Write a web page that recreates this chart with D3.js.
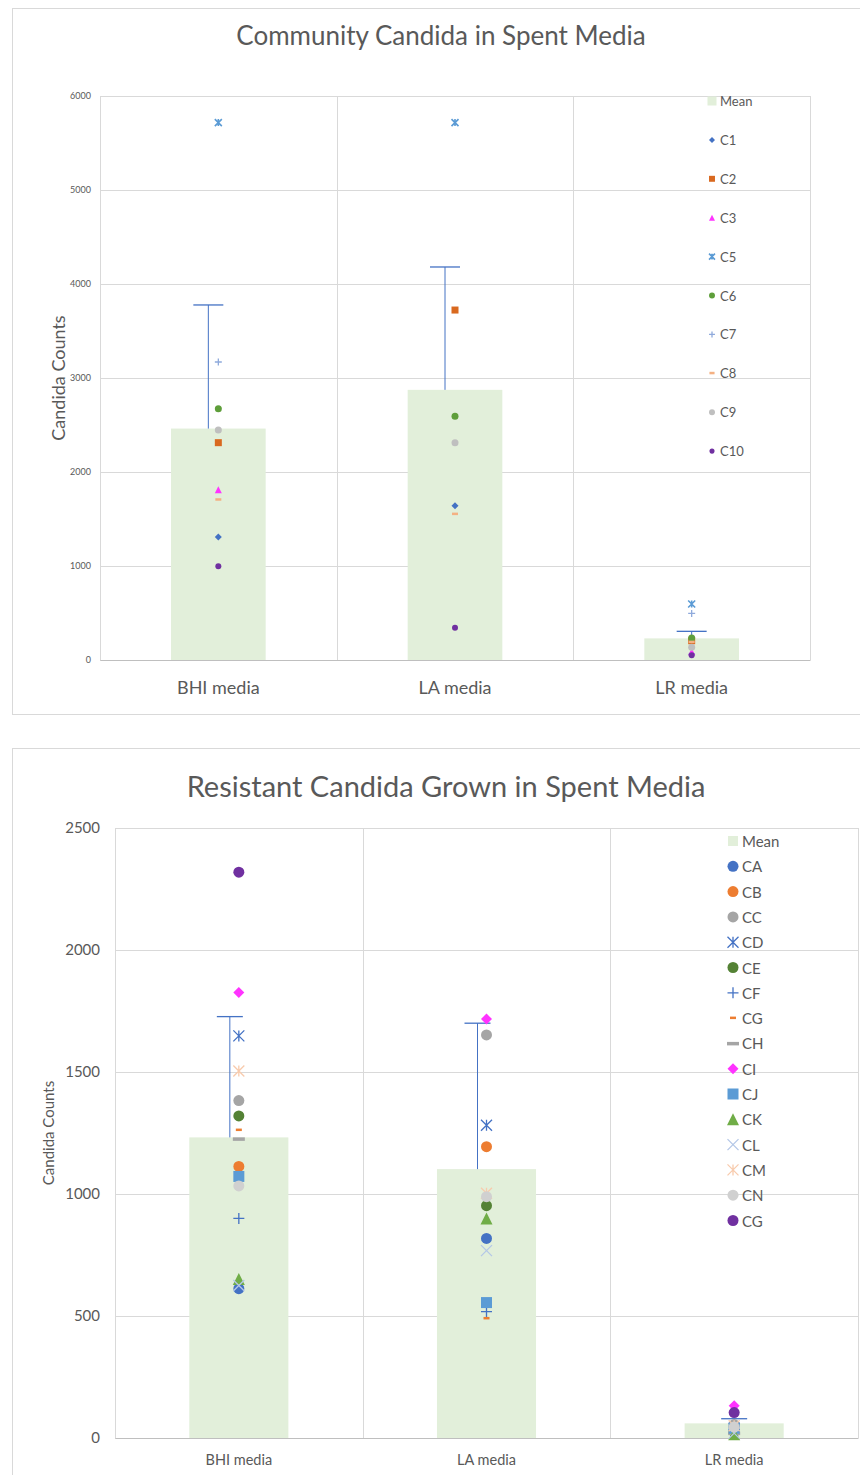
<!DOCTYPE html>
<html>
<head>
<meta charset="utf-8">
<script src="https://cdn.jsdelivr.net/npm/d3@7"></script>
<style>
  body { margin: 0; background: #fff; }
  text { font-family: Lato, "Open Sans", sans-serif; fill: #595959; }
</style>
</head>
<body>
<div id="chart"></div>
<script>
// ---- data: chart 1 (Community Candida) ----
var categories = ["BHI media", "LA media", "LR media"];

var topNames = ["C1", "C2", "C3", "C5", "C6", "C7", "C8", "C9", "C10"];
var topMean = [2462, 2874, 230];
var topErr = [1315, 1307, 75];
var topTicks = [0, 1000, 2000, 3000, 4000, 5000, 6000];
var c1 = [1308, 1642, 60];
var c2 = [2312, 3723, 205];
var c3 = [1812, null, 89];
var c5 = [5717, 5717, 596];
var c6 = [2673, 2592, 234];
var c7 = [3170, null, 496];
var c8 = [1705, 1552, 190];
var c9 = [2447, 2312, 135];
var c10 = [997, 342, 50];

// ---- data: chart 2 (Resistant Candida) ----
var botNames = ["CA", "CB", "CC", "CD", "CE", "CF", "CG", "CH", "CI", "CJ", "CK", "CL", "CM", "CN", "CG"];
var botMean = [1232, 1102, 60];
var botErr = [495, 598, 19];
var botTicks = [0, 500, 1000, 1500, 2000, 2500];
var ca = [612, 818, 30];
var cb = [1113, 1194, 45];
var cc = [1383, 1652, 55];
var cd = [1648, 1282, 40];
var ce = [1320, 952, 25];
var cf = [900, 518, 35];
var cg = [1262, 490, 30];
var ch = [1226, null, 20];
var ci = [1826, 1717, 132];
var cj = [1072, 555, 40];
var ck = [652, 900, 15];
var cl = [625, 768, 20];
var cm = [1504, 1003, 50];
var cn = [1033, 989, 45];
var cg2 = [2319, null, 104];

var topValues = [c1, c2, c3, c5, c6, c7, c8, c9, c10];
var botValues = [ca, cb, cc, cd, ce, cf, cg, ch, ci, cj, ck, cl, cm, cn, cg2];

// marker styles (shape, colour, size)
var topStyles = [
  { shape: "diamond", color: "#4472C4", size: 7 },
  { shape: "square", color: "#D9691F", size: 7 },
  { shape: "triangle", color: "#FF33FF", size: 7 },
  { shape: "star", color: "#5B9BD5", size: 7 },
  { shape: "circle", color: "#5E9E3A", size: 7 },
  { shape: "plus", color: "#8FAADC", size: 7 },
  { shape: "dash", color: "#F4B183", size: 6 },
  { shape: "circle", color: "#BFBFBF", size: 7 },
  { shape: "circle", color: "#7030A0", size: 6 }
];
var botStyles = [
  { shape: "circle", color: "#4472C4", size: 11 },
  { shape: "circle", color: "#ED7D31", size: 11 },
  { shape: "circle", color: "#A5A5A5", size: 11 },
  { shape: "star", color: "#4472C4", size: 11 },
  { shape: "circle", color: "#548235", size: 11 },
  { shape: "plus", color: "#4472C4", size: 11 },
  { shape: "dash", color: "#ED7D31", size: 6 },
  { shape: "longdash", color: "#A5A5A5", size: 12 },
  { shape: "diamond", color: "#FF33FF", size: 11 },
  { shape: "square", color: "#5B9BD5", size: 11 },
  { shape: "triangle", color: "#70AD47", size: 12 },
  { shape: "x", color: "#B4C7E7", size: 11 },
  { shape: "star", color: "#F8CBAD", size: 11 },
  { shape: "circle", color: "#D0D0D0", size: 11 },
  { shape: "circle", color: "#7030A0", size: 11 }
];

var svg = d3.select("#chart").append("svg")
  .attr("width", 860)
  .attr("height", 1475);

function drawMarker(g, st, x, y) {
  var s = st.size, h = s / 2;
  if (st.shape == "circle") {
    g.append("circle").attr("cx", x).attr("cy", y).attr("r", h).attr("fill", st.color);
  } else if (st.shape == "square") {
    g.append("rect").attr("x", x - h).attr("y", y - h).attr("width", s).attr("height", s).attr("fill", st.color);
  } else if (st.shape == "diamond") {
    g.append("path").attr("d", "M" + x + "," + (y - h) + "L" + (x + h) + "," + y + "L" + x + "," + (y + h) + "L" + (x - h) + "," + y + "Z")
      .attr("fill", st.color);
  } else if (st.shape == "triangle") {
    g.append("path").attr("d", "M" + x + "," + (y - h) + "L" + (x + h) + "," + (y + h) + "L" + (x - h) + "," + (y + h) + "Z")
      .attr("fill", st.color);
  } else if (st.shape == "x" || st.shape == "star") {
    var d = "M" + (x - h) + "," + (y - h) + "L" + (x + h) + "," + (y + h) + "M" + (x + h) + "," + (y - h) + "L" + (x - h) + "," + (y + h);
    if (st.shape == "star") d += "M" + x + "," + (y - h) + "L" + x + "," + (y + h);
    g.append("path").attr("d", d).attr("stroke", st.color).attr("stroke-width", s > 8 ? 1.3 : 1.6).attr("fill", "none");
  } else if (st.shape == "plus") {
    g.append("path").attr("d", "M" + (x - h) + "," + y + "L" + (x + h) + "," + y + "M" + x + "," + (y - h) + "L" + x + "," + (y + h))
      .attr("stroke", st.color).attr("stroke-width", 1.3).attr("fill", "none");
  } else {
    // dash / longdash
    g.append("rect").attr("x", x - h).attr("y", y - 1.5).attr("width", s).attr("height", st.size > 8 ? 3.5 : 2.5).attr("fill", st.color);
  }
}

function drawChart(cfg) {
  var g = svg.append("g");

  // outer frame
  g.append("rect")
    .attr("x", 12.5).attr("y", cfg.frameTop + 0.5)
    .attr("width", 880).attr("height", cfg.frameH)
    .attr("fill", "none").attr("stroke", "#D9D9D9");

  var x = d3.scaleBand().domain(categories).range([cfg.left, cfg.right]).padding(0);
  var y = d3.scaleLinear().domain([0, d3.max(cfg.ticks)]).range([cfg.bottom, cfg.top]);

  // horizontal gridlines
  g.selectAll(".hgrid").data(cfg.ticks).enter().append("line")
    .attr("x1", cfg.left).attr("x2", cfg.right)
    .attr("y1", function (d) { return Math.round(y(d)) + 0.5; })
    .attr("y2", function (d) { return Math.round(y(d)) + 0.5; })
    .attr("stroke", "#D9D9D9");
  // vertical separators
  var seps = categories.map(function (c) { return x(c); }).concat([cfg.right]);
  g.selectAll(".vgrid").data(seps).enter().append("line")
    .attr("x1", function (d) { return Math.round(d) + 0.5; })
    .attr("x2", function (d) { return Math.round(d) + 0.5; })
    .attr("y1", cfg.top).attr("y2", cfg.bottom)
    .attr("stroke", "#D9D9D9");

  // y axis labels
  var yAxis = d3.axisLeft(y).tickValues(cfg.ticks).tickFormat(d3.format("d")).tickSize(0).tickPadding(cfg.tickPad);
  var ya = g.append("g").attr("transform", "translate(" + cfg.left + ",0)").call(yAxis);
  ya.select(".domain").remove();
  ya.selectAll("text").style("font-size", cfg.tickFont + "px").style("fill", "#595959")
    .style("font-family", "Lato, sans-serif");

  // x axis labels
  var xAxis = d3.axisBottom(x).tickSize(0).tickPadding(cfg.catPad);
  var xa = g.append("g").attr("transform", "translate(0," + cfg.bottom + ")").call(xAxis);
  xa.select(".domain").attr("stroke", "#BFBFBF");
  xa.selectAll("text").style("font-size", cfg.catFont + "px").style("fill", "#595959")
    .style("font-family", "Lato, sans-serif");

  // mean bars
  var bw = x.bandwidth() * 0.4;
  g.selectAll(".bar").data(cfg.mean).enter().append("rect")
    .attr("x", function (d, i) { return x(categories[i]) + x.bandwidth() / 2 - bw / 2; })
    .attr("width", bw)
    .attr("y", function (d) { return y(d); })
    .attr("height", function (d) { return cfg.bottom - y(d); })
    .attr("fill", "#E2EFDA");

  // error bars (plus direction)
  cfg.mean.forEach(function (m, i) {
    var cx = x(categories[i]) + x.bandwidth() / 2 + (i < 2 ? -cfg.errShift : 0);
    g.append("line").attr("x1", cx).attr("x2", cx).attr("y1", y(m)).attr("y2", y(m + cfg.err[i]))
      .attr("stroke", "#4472C4").attr("stroke-width", 1);
    g.append("line").attr("x1", cx - cfg.cap / 2).attr("x2", cx + cfg.cap / 2)
      .attr("y1", y(m + cfg.err[i])).attr("y2", y(m + cfg.err[i]))
      .attr("stroke", "#4472C4").attr("stroke-width", 1.3);
  });

  // points
  cfg.values.forEach(function (vals, s) {
    vals.forEach(function (v, i) {
      if (v == null) return;
      drawMarker(g, cfg.styles[s], x(categories[i]) + x.bandwidth() / 2, y(v));
    });
  });

  // title
  g.append("text").attr("x", cfg.titleX).attr("y", cfg.titleY)
    .attr("text-anchor", "middle").attr("dominant-baseline", "central")
    .style("font-size", cfg.titleFont + "px").text(cfg.title);

  // y-axis title
  g.append("text")
    .attr("transform", "translate(" + cfg.yTitleX + "," + ((cfg.top + cfg.bottom) / 2) + ") rotate(-90)")
    .attr("text-anchor", "middle").attr("dominant-baseline", "central")
    .style("font-size", cfg.yTitleFont + "px").text("Candida Counts");

  // legend
  var leg = g.append("g");
  var names = ["Mean"].concat(cfg.names);
  names.forEach(function (n, i) {
    var ly = cfg.legTop + i * cfg.legStep;
    if (i == 0) {
      leg.append("rect").attr("x", cfg.legX - cfg.legBox / 2).attr("y", ly - cfg.legBox / 2)
        .attr("width", cfg.legBox).attr("height", cfg.legBox).attr("fill", "#E2EFDA");
    } else {
      var st = Object.assign({}, cfg.styles[i - 1]);
      st.size = st.size * cfg.legScale;
      drawMarker(leg, st, cfg.legX, ly);
    }
    leg.append("text").attr("x", cfg.legX + cfg.legGap).attr("y", ly)
      .attr("dominant-baseline", "central")
      .style("font-size", cfg.legFont + "px").text(n);
  });
}

drawChart({
  title: "Community Candida in Spent Media",
  frameTop: 8, frameH: 706,
  left: 100, right: 810, top: 96, bottom: 660,
  ticks: topTicks, tickFont: 9, tickPad: 9,
  catFont: 18, catPad: 21,
  mean: topMean, err: topErr, errShift: 10, cap: 30,
  values: topValues, styles: topStyles, names: topNames,
  titleX: 441, titleY: 35, titleFont: 26,
  yTitleX: 58, yTitleFont: 18,
  legX: 712, legGap: 8, legTop: 101, legStep: 38.9, legFont: 13, legBox: 9, legScale: 0.85
});

drawChart({
  title: "Resistant Candida Grown in Spent Media",
  frameTop: 748, frameH: 760,
  left: 115, right: 858, top: 828, bottom: 1438,
  ticks: botTicks, tickFont: 15, tickPad: 15,
  catFont: 14.5, catPad: 17,
  mean: botMean, err: botErr, errShift: 9, cap: 26,
  values: botValues, styles: botStyles, names: botNames,
  titleX: 446, titleY: 785, titleFont: 29,
  yTitleX: 48, yTitleFont: 15,
  legX: 733, legGap: 9, legTop: 841, legStep: 25.3, legFont: 15, legBox: 10, legScale: 1
});
</script>
</body>
</html>
